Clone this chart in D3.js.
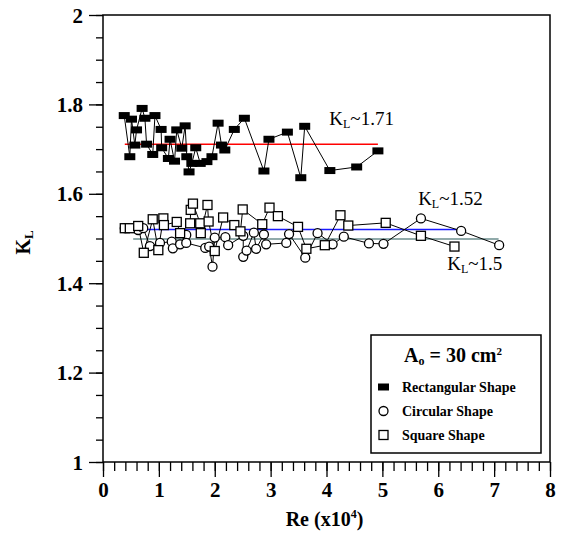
<!DOCTYPE html>
<html>
<head>
<meta charset="utf-8">
<script src="https://cdn.jsdelivr.net/npm/d3@7"></script>
<style>
  body { margin: 0; background: #fff; }
  svg, svg text { font-family: "Liberation Serif", "Times New Roman", serif !important; }
</style>
</head>
<body>
<svg id="chart" width="568" height="534"></svg>
<script>
// Re (x10^4) and K_L values
const rectRe = [0.38, 0.48, 0.51, 0.57, 0.60, 0.70, 0.75, 0.78, 0.89, 0.93, 1.04, 1.05, 1.17, 1.20, 1.28, 1.32,
  1.41, 1.47, 1.50, 1.54, 1.59, 1.66, 1.74, 1.86, 1.95, 2.06, 2.12, 2.18, 2.35, 2.53, 2.88, 2.97,
  3.30, 3.54, 3.61, 4.06, 4.54, 4.92];
const rectKL = [1.775, 1.683, 1.767, 1.709, 1.743, 1.791, 1.769, 1.711, 1.688, 1.775, 1.744, 1.703, 1.679, 1.722, 1.673, 1.743,
  1.702, 1.752, 1.683, 1.649, 1.668, 1.703, 1.668, 1.672, 1.683, 1.758, 1.709, 1.698, 1.744, 1.769, 1.651, 1.722,
  1.738, 1.636, 1.751, 1.652, 1.660, 1.696];

const circRe = [0.39, 0.63, 0.72, 0.84, 1.02, 1.23, 1.25, 1.38, 1.49, 1.49, 1.83, 1.90, 1.96, 2.00, 2.19, 2.24,
  2.51, 2.51, 2.57, 2.70, 2.74, 2.88, 2.92, 3.28, 3.33, 3.62, 3.84, 4.11, 4.31, 4.76, 5.02, 5.69, 6.41, 7.09];
const circKL = [1.523, 1.519, 1.523, 1.483, 1.490, 1.493, 1.478, 1.487, 1.508, 1.490, 1.479, 1.482, 1.437, 1.502, 1.503, 1.485,
  1.506, 1.459, 1.473, 1.513, 1.477, 1.509, 1.487, 1.490, 1.510, 1.457, 1.512, 1.487, 1.504, 1.489, 1.488, 1.545, 1.517, 1.485];

const sqRe = [0.39, 0.48, 0.63, 0.73, 0.89, 0.99, 1.08, 1.09, 1.32, 1.38, 1.56, 1.57, 1.61, 1.74, 1.75, 1.87,
  1.89, 2.00, 2.15, 2.35, 2.46, 2.50, 2.85, 2.98, 3.13, 3.49, 3.64, 3.97, 4.25, 4.39, 5.06, 5.69, 6.29];
const sqKL = [1.523, 1.523, 1.528, 1.468, 1.543, 1.474, 1.545, 1.530, 1.537, 1.512, 1.534, 1.564, 1.578, 1.534, 1.512, 1.575,
  1.538, 1.472, 1.547, 1.530, 1.516, 1.565, 1.532, 1.569, 1.550, 1.526, 1.477, 1.485, 1.552, 1.529, 1.535, 1.506, 1.482];

// mean lines: [Re start, Re end, K_L, colour]
const meanLines = [
  { x0: 0.39, x1: 4.92, k: 1.711, color: "#ff0000" },
  { x0: 0.48, x1: 6.33, k: 1.52, color: "#1a1aff" },
  { x0: 0.54, x1: 7.08, k: 1.499, color: "#6b8e8e" }
];
const notes = [
  { x: 4.05, y: 1.755, text: "1.71" },
  { x: 5.64, y: 1.575, text: "1.52" },
  { x: 6.16, y: 1.43, text: "1.5" }
];
const legendItems = ["Rectangular Shape", "Circular Shape", "Square Shape"];

const svg = d3.select("#chart");
const margin = { left: 103, top: 15, right: 18, bottom: 72 };
const width = 568 - margin.left - margin.right;
const height = 534 - margin.top - margin.bottom;

const x = d3.scaleLinear().domain([0, 8]).range([0, width]);
const y = d3.scaleLinear().domain([1, 2]).range([height, 0]);

const g = svg.append("g").attr("transform", `translate(${margin.left},${margin.top})`);

// minor ticks
g.append("g")
  .attr("transform", `translate(0,${height})`)
  .call(d3.axisBottom(x).tickValues(d3.range(0, 8.01, 0.2)).tickSize(9).tickFormat(""))
  .call(a => a.select(".domain").remove())
  .call(a => a.selectAll("line").attr("stroke-width", 1.3));
g.append("g")
  .call(d3.axisLeft(y).tickValues(d3.range(1, 2.001, 0.05)).tickSize(7).tickFormat(""))
  .call(a => a.select(".domain").remove())
  .call(a => a.selectAll("line").attr("stroke-width", 1.3));

// major ticks
g.append("g")
  .attr("transform", `translate(0,${height})`)
  .call(d3.axisBottom(x).tickValues(d3.range(0, 9)).tickSize(15).tickPadding(5).tickFormat(d3.format("d")))
  .attr("font-family", null)
  .call(a => a.select(".domain").remove())
  .call(a => a.selectAll("line").attr("stroke-width", 1.3))
  .call(a => a.selectAll("text").attr("font-size", 21).attr("font-weight", "bold"));
g.append("g")
  .call(d3.axisLeft(y).tickValues([1, 1.2, 1.4, 1.6, 1.8, 2]).tickSize(14).tickPadding(6)
    .tickFormat(d => d === 1 || d === 2 ? d3.format("d")(d) : d3.format(".1f")(d)))
  .attr("font-family", null)
  .call(a => a.select(".domain").remove())
  .call(a => a.selectAll("line").attr("stroke-width", 1.3))
  .call(a => a.selectAll("text").attr("font-size", 21).attr("font-weight", "bold").attr("dy", "0.34em"));

// frame
g.append("rect").attr("width", width).attr("height", height)
  .attr("fill", "none").attr("stroke", "#000").attr("stroke-width", 1.5);

// mean lines
g.selectAll(".mean").data(meanLines).enter().append("line")
  .attr("x1", d => x(d.x0)).attr("x2", d => x(d.x1))
  .attr("y1", d => y(d.k)).attr("y2", d => y(d.k))
  .attr("stroke", d => d.color).attr("stroke-width", 1.4);

const line = d3.line().x(d => x(d[0])).y(d => y(d[1]));
const rectData = rectRe.map((v, i) => [v, rectKL[i]]);
const circData = circRe.map((v, i) => [v, circKL[i]]);
const sqData = sqRe.map((v, i) => [v, sqKL[i]]);

[rectData, circData, sqData].forEach(s => {
  g.append("path").datum(s).attr("d", line)
    .attr("fill", "none").attr("stroke", "#000").attr("stroke-width", 1);
});

g.selectAll(".rmark").data(rectData).enter().append("rect")
  .attr("x", d => x(d[0]) - 5.5).attr("y", d => y(d[1]) - 3.5)
  .attr("width", 11).attr("height", 7).attr("fill", "#000");

g.selectAll(".cmark").data(circData).enter().append("circle")
  .attr("cx", d => x(d[0])).attr("cy", d => y(d[1])).attr("r", 4.5)
  .attr("fill", "#fff").attr("stroke", "#000").attr("stroke-width", 1.3);

g.selectAll(".smark").data(sqData).enter().append("rect")
  .attr("x", d => x(d[0]) - 4.5).attr("y", d => y(d[1]) - 4.5)
  .attr("width", 9).attr("height", 9)
  .attr("fill", "#fff").attr("stroke", "#000").attr("stroke-width", 1.3);

// annotations
notes.forEach(n => {
  const t = g.append("text").attr("x", x(n.x)).attr("y", y(n.y)).attr("font-size", 19);
  t.append("tspan").text("K");
  t.append("tspan").text("L").attr("font-size", 12).attr("dy", 3);
  t.append("tspan").text("~" + n.text).attr("dy", -3);
});

// axis titles
const xt = svg.append("text").attr("x", margin.left + x(4) - 2).attr("y", 526)
  .attr("text-anchor", "middle").attr("font-size", 20).attr("font-weight", "bold");
xt.append("tspan").text("Re (x10");
xt.append("tspan").text("4").attr("font-size", 12).attr("dy", -8);
xt.append("tspan").text(")").attr("dy", 8);

const yt = svg.append("text").attr("transform", `translate(30,${margin.top + y(1.5) + 4}) rotate(-90)`)
  .attr("text-anchor", "middle").attr("font-size", 20).attr("font-weight", "bold");
yt.append("tspan").text("K");
yt.append("tspan").text("L").attr("font-size", 13).attr("dy", 3);

// legend
const lg = svg.append("g").attr("transform", "translate(371,335)");
lg.append("rect").attr("width", 170).attr("height", 118)
  .attr("fill", "#fff").attr("stroke", "#000").attr("stroke-width", 1.5);
const lt = lg.append("text").attr("x", 82).attr("y", 27).attr("text-anchor", "middle")
  .attr("font-size", 20).attr("font-weight", "bold");
lt.append("tspan").text("A");
lt.append("tspan").text("o").attr("font-size", 12).attr("dy", 3);
lt.append("tspan").text(" = 30 cm").attr("dy", -3);
lt.append("tspan").text("2").attr("font-size", 11).attr("dy", -7);

legendItems.forEach((name, i) => {
  const cy = 52 + i * 24;
  if (i === 0) {
    lg.append("rect").attr("x", 7).attr("y", cy - 3.5).attr("width", 11).attr("height", 7).attr("fill", "#000");
  } else if (i === 1) {
    lg.append("circle").attr("cx", 12.5).attr("cy", cy).attr("r", 4.5)
      .attr("fill", "#fff").attr("stroke", "#000").attr("stroke-width", 1.3);
  } else {
    lg.append("rect").attr("x", 8).attr("y", cy - 4.5).attr("width", 9).attr("height", 9)
      .attr("fill", "#fff").attr("stroke", "#000").attr("stroke-width", 1.3);
  }
  lg.append("text").attr("x", 31).attr("y", cy + 5).attr("font-size", 14).attr("font-weight", "bold").text(name);
});
</script>
</body>
</html>
